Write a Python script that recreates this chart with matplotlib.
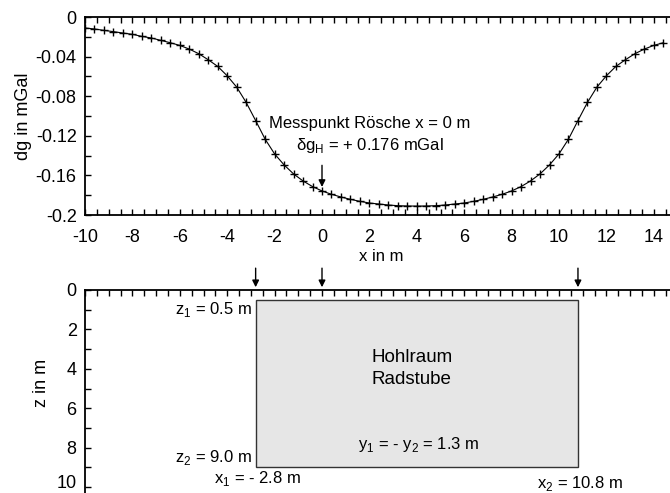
import matplotlib
matplotlib.use("Agg")
import matplotlib.pyplot as plt
import matplotlib.transforms as mtransforms
from matplotlib.patches import Rectangle
from matplotlib.ticker import MultipleLocator

plt.rcParams['font.family'] = ['Liberation Sans', 'DejaVu Sans']
plt.rcParams['mathtext.fontset'] = 'custom'
plt.rcParams['mathtext.rm'] = 'Liberation Sans'
plt.rcParams['axes.unicode_minus'] = False

# Messpunkte (x in m) und Schwereanomalie (mGal)
x_m = [-10.0, -9.6, -9.2, -8.8, -8.4, -8.0, -7.6, -7.2, -6.8, -6.4,
       -6.0, -5.6, -5.2, -4.8, -4.4, -4.0, -3.6, -3.2, -2.8, -2.4,
       -2.0, -1.6, -1.2, -0.8, -0.4, 0.0, 0.4, 0.8, 1.2, 1.6,
       2.0, 2.4, 2.8, 3.2, 3.6, 4.0, 4.4, 4.8, 5.2, 5.6,
       6.0, 6.4, 6.8, 7.2, 7.6, 8.0, 8.4, 8.8, 9.2, 9.6,
       10.0, 10.4, 10.8, 11.2, 11.6, 12.0, 12.4, 12.8, 13.2, 13.6,
       14.0, 14.4]
dg = [-0.0111, -0.0121, -0.0135, -0.0148, -0.0162, -0.0175, -0.0196, -0.0212, -0.0236, -0.0260,
      -0.0287, -0.0324, -0.0371, -0.0432, -0.0499, -0.0594, -0.0708, -0.0863, -0.1046, -0.1234,
      -0.1383, -0.1494, -0.1585, -0.1656, -0.1713, -0.1757, -0.1791, -0.1818, -0.1842, -0.1862,
      -0.1879, -0.1889, -0.1899, -0.1906, -0.1909, -0.1910, -0.1909, -0.1906, -0.1899, -0.1889,
      -0.1879, -0.1862, -0.1842, -0.1818, -0.1791, -0.1757, -0.1713, -0.1656, -0.1585, -0.1494,
      -0.1383, -0.1234, -0.1046, -0.0863, -0.0708, -0.0594, -0.0499, -0.0432, -0.0371, -0.0324,
      -0.0287, -0.0260]

y_ticks = [0, -0.04, -0.08, -0.12, -0.16, -0.2]
y_labels = ["0", "-0.04", "-0.08", "-0.12", "-0.16", "-0.2"]
z_ticks = [0, 2, 4, 6, 8, 10]

# Hohlraum
x1, x2 = -2.8, 10.8
z1, z2 = 0.5, 9.0
arrow_x = [x1, 0.0, x2]

W, H = 670, 493
fig = plt.figure(figsize=(W / 100, H / 100), dpi=100)
fs = 12
tfs = 13

# oberes Diagramm
ax1 = fig.add_axes([85 / W, (H - 215) / H, 592.5 / W, 198 / H])
ax1.plot(x_m, dg, color='black', lw=0.8, marker='+', ms=6, mew=1.0)
ax1.set_xlim(-10, 15)
ax1.set_ylim(-0.2, 0)
ax1.xaxis.set_major_locator(MultipleLocator(2))
ax1.xaxis.set_minor_locator(MultipleLocator(0.5))
ax1.set_yticks(y_ticks)
ax1.set_yticklabels(y_labels)
ax1.yaxis.set_minor_locator(MultipleLocator(0.02))
ax1.set_xlabel("x in m", fontsize=fs, labelpad=2)
ax1.set_ylabel("dg in mGal", fontsize=tfs)
ax1.yaxis.set_label_coords(-0.09, 0.5)

ax1.annotate("", xy=(0, -0.1745), xytext=(0, -0.147),
             arrowprops=dict(arrowstyle='-|>', color='black', lw=1, mutation_scale=10))
ax1.text(2.0, -0.108, "Messpunkt Rösche x = 0 m", ha='center', va='center', fontsize=fs)
ax1.text(2.0, -0.130, "δg$_\\mathregular{H}$ = + 0.176 mGal", ha='center', va='center', fontsize=fs)

# unteres Diagramm
ax2 = fig.add_axes([85 / W, (H - 290 - 10.5 * 19.7) / H, 592.5 / W, 10.5 * 19.7 / H])
ax2.set_xlim(-10, 15)
ax2.set_ylim(10.5, 0)
ax2.add_patch(Rectangle((x1, z1), x2 - x1, z2 - z1, facecolor='#e6e6e6',
                        edgecolor='#333333', lw=1))
ax2.xaxis.set_major_locator(MultipleLocator(0.5))
ax2.xaxis.tick_top()
ax2.tick_params(axis='x', labeltop=False)
ax2.set_yticks(z_ticks)
ax2.yaxis.set_minor_locator(MultipleLocator(1))
ax2.spines['right'].set_visible(False)
ax2.spines['bottom'].set_visible(False)
ax2.set_ylabel("z in m", fontsize=tfs)
ax2.yaxis.set_label_coords(-0.059, 0.55)

for xa in arrow_x:
    ax2.annotate("", xy=(xa, 0.0), xytext=(xa, -1.25), annotation_clip=False,
                 arrowprops=dict(arrowstyle='-|>', color='black', lw=1, mutation_scale=10))

ax2.text(2.1, 3.45, "Hohlraum", ha='left', va='center', fontsize=13.5)
ax2.text(2.1, 4.55, "Radstube", ha='left', va='center', fontsize=13.5)
ax2.text(-2.95, 1.0, "z$_\\mathregular{1}$ = 0.5 m", ha='right', va='center', fontsize=fs)
ax2.text(-2.95, 8.5, "z$_\\mathregular{2}$ = 9.0 m", ha='right', va='center', fontsize=fs)
ax2.text(-2.7, 9.55, "x$_\\mathregular{1}$ = - 2.8 m", ha='center', va='center', fontsize=fs)
ax2.text(10.9, 9.8, "x$_\\mathregular{2}$ = 10.8 m", ha='center', va='center', fontsize=fs)
ax2.text(1.5, 7.85, "y$_\\mathregular{1}$ = - y$_\\mathregular{2}$ = 1.3 m", ha='left', va='center',
         fontsize=fs)

for ax in (ax1, ax2):
    for sp in ax.spines.values():
        sp.set_linewidth(1.3)
    ax.tick_params(which='both', direction='in', length=4.5, width=1, labelsize=tfs)
    ax.tick_params(axis='y', pad=6)
ax1.tick_params(axis='x', pad=10)
ax1.tick_params(which='both', top=True, right=False)

# letzte z-Beschriftung etwas anheben, damit sie im Bild bleibt
shift = mtransforms.ScaledTranslation(0, 4 / 72, fig.dpi_scale_trans)
last = ax2.yaxis.get_major_ticks()[-1].label1
last.set_transform(last.get_transform() + shift)

fig.savefig("out.png", dpi=100)
